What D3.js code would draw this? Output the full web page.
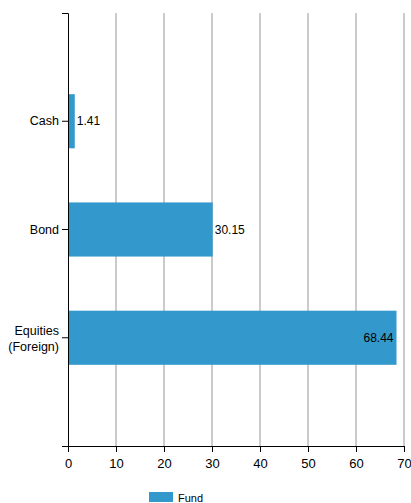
<!DOCTYPE html>
<html><head><meta charset="utf-8">
<script src="https://cdn.jsdelivr.net/npm/d3@7"></script>
<style>body{margin:0;background:#fff}svg{display:block;font-family:"Liberation Sans",Arial,sans-serif}</style>
</head><body>
<script>
const categories = ["Cash", "Bond", "Equities (Foreign)"];
const values = [1.41, 30.15, 68.44];
const xTicks = [0, 10, 20, 30, 40, 50, 60, 70];
const seriesName = "Fund";

const W = 411, H = 503;
const m = {left: 68, top: 13, right: 7, bottom: 57};
const svg = d3.select("body").append("svg").attr("width", W).attr("height", H);
const x = d3.scaleLinear().domain([0, 70]).range([m.left, 404]);
const y = d3.scaleBand().domain(categories).range([m.top, 446]).paddingInner(0.5).paddingOuter(0.75);
const color = "#3399cc";

// gridlines
svg.append("g").selectAll("line").data(xTicks.filter(d => d > 0)).join("line")
  .attr("x1", d => x(d)).attr("x2", d => x(d)).attr("y1", m.top).attr("y2", 446)
  .attr("stroke", "#a8a8a8").attr("stroke-width", 1.2);

// bars
svg.append("g").selectAll("rect").data(values).join("rect")
  .attr("x", x(0)).attr("y", (d, i) => y(categories[i]))
  .attr("width", d => x(d) - x(0)).attr("height", y.bandwidth()).attr("fill", color);

// value labels
svg.append("g").selectAll("text").data(values).join("text")
  .attr("x", d => x(d) + (x(d) > 380 ? -3 : 2))
  .attr("text-anchor", d => x(d) > 380 ? "end" : "start")
  .attr("y", (d, i) => y(categories[i]) + y.bandwidth() / 2 + 4)
  .attr("font-size", 12).attr("fill", "#000").text(d => d);

// x axis
const gx = svg.append("g").attr("transform", "translate(0,446)")
  .call(d3.axisBottom(x).tickValues(xTicks).tickSize(6));
gx.selectAll("text").attr("font-size", 13).attr("font-family", "Liberation Sans, Arial, sans-serif").attr("dy", "1em");
gx.select(".domain").attr("stroke", "#000");

// y axis
const gy = svg.append("g").attr("transform", `translate(${m.left},0)`)
  .call(d3.axisLeft(y).tickSize(6));
gy.select(".domain").attr("stroke", "#000");
gy.selectAll(".tick text").attr("font-size", 12.5).attr("font-family", "Liberation Sans, Arial, sans-serif")
  .each(function(d) {
    const t = d3.select(this);
    const parts = d === "Equities (Foreign)" ? ["Equities", "(Foreign)"] : [d];
    t.text(null);
    parts.forEach((p, i) => {
      t.append("tspan").attr("x", -9).attr("dy", i === 0 ? (parts.length > 1 ? "-0.2em" : "0.32em") : "1.25em").text(p);
    });
  });

// legend
const lg = svg.append("g").attr("transform", "translate(149,492)");
lg.append("rect").attr("width", 24).attr("height", 10).attr("fill", color);
lg.append("text").attr("x", 29).attr("y", 10).attr("font-size", 11).text(seriesName);
</script>
</body></html>
